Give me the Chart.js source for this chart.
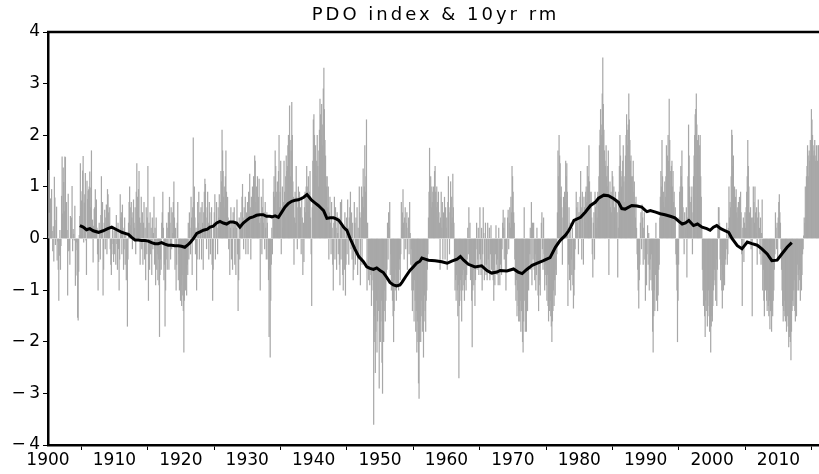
<!DOCTYPE html>
<html>
<head>
<meta charset="utf-8">
<script src="https://cdn.jsdelivr.net/npm/chart.js@4"></script>
<style>
html,body{margin:0;padding:0;background:#fff;}
canvas{display:block;}
</style>
</head>
<body>
<canvas id="c" width="819" height="474"></canvas>
<script>
// ---- DATA ----
const titleText = "PDO index & 10yr rm";
const startYear = 1900;
// monthly PDO index, one row per year, Jan..Dec
const pdoMonthly = [
 0.04, 1.32, 0.49, 0.35, 0.77, 0.65, 0.95, 0.14,-0.24, 0.23,-0.44, 1.19, // 1900
 0.79,-0.12, 0.35, 0.61,-0.42,-0.05,-0.60,-1.20,-0.33, 0.16,-0.60,-0.14, // 1901
 0.82, 1.58, 0.48, 1.37, 1.09, 0.52, 1.58, 1.57, 0.44, 0.70, 0.16,-1.10, // 1902
 0.86,-0.24,-0.22,-0.50, 0.43, 0.23, 0.40, 1.01,-0.24, 0.18, 0.08,-0.03, // 1903
 0.63,-0.91,-0.71,-0.07,-0.22,-1.53,-1.58,-0.64, 0.06, 0.43, 1.45, 0.58, // 1904
 0.73, 0.91, 1.31, 1.59,-0.07, 0.69, 0.85, 1.26,-0.03,-0.70, 1.11, 0.76, // 1905
 0.92, 0.95, 1.00, 1.29, 0.60, 0.98, 1.70, 0.35, 0.36,-0.46, 0.24, 0.57, // 1906
 0.60, 0.95, 0.40, 0.75, 0.20,-0.30,-1.00,-0.45, 0.30, 0.10,-0.40, 0.45, // 1907
 1.20, 0.50, 0.70,-1.10,-0.60, 0.30, 0.55,-0.20, 0.40, 0.65,-0.30, 0.95, // 1908
 0.85, 0.50, 0.30, 0.60,-0.20,-0.50,-0.70,-0.30, 0.20,-0.10,-0.45, 0.15, // 1909
-0.30, 0.20,-0.50, 0.45,-0.10,-0.60, 0.30,-0.20,-1.00,-0.40, 0.85, 0.40, // 1910
 0.50,-0.30, 0.65, 0.20,-0.60,-0.20, 0.40,-0.50, 0.10,-0.80,-0.40,-1.70, // 1911
-0.40, 0.30, 0.70, 1.00, 0.60, 0.25, 0.70, 0.40,-0.20, 0.50, 0.75, 0.30, // 1912
 0.20, 0.60,-0.30, 0.90, 1.45, 0.80, 0.50, 0.95, 1.30, 0.40,-0.50, 0.30, // 1913
 0.80,-0.20, 0.50,-0.50, 0.30, 0.70,-0.40, 0.20,-0.80, 0.60,-0.30, 0.40, // 1914
 1.40,-1.20, 0.30,-0.60, 0.50,-0.30, 0.20,-0.70, 0.40,-0.20, 0.10, 0.80, // 1915
-0.50, 0.20,-0.90, 0.40,-0.60,-0.30,-0.80,-0.40,-0.90,-1.90,-0.70,-0.40, // 1916
-0.60, 0.30, 0.50, 0.90, 0.20,-0.80,-0.50,-1.70,-1.00,-0.40, 0.30,-0.60, // 1917
 0.20, 0.50,-0.60, 0.80, 0.30,-0.40, 0.60,-0.20, 0.50, 0.10, 0.70, 1.10, // 1918
 0.40,-0.60, 0.20,-1.00,-0.50, 0.30, 0.70,-0.80,-0.30,-1.00,-0.60,-1.20, // 1919
-0.90,-1.30,-0.70,-1.10,-1.40,-2.20,-1.20,-0.80,-1.00,-0.60,-1.10,-0.50, // 1920
-0.70, 0.30,-0.40, 0.50, 0.20,-0.30, 0.80, 0.40,-0.70, 0.60, 1.95, 0.70, // 1921
 1.00, 0.40,-0.30, 0.20,-1.00,-0.40, 0.70, 0.30, 0.90,-0.40, 0.50, 0.20, // 1922
 0.60,-0.40, 0.70, 0.30,-0.60, 0.50, 0.90, 1.15, 1.05, 0.40,-0.20, 0.60, // 1923
 0.90, 0.30,-0.40, 0.70, 0.50,-0.30, 0.20, 0.60,-0.50,-1.20,-0.60, 0.30, // 1924
 0.50, 0.85,-0.40, 0.30, 0.70, 0.20,-0.30, 0.60, 0.40, 0.85, 0.30, 0.70, // 1925
 1.30, 1.10, 2.10, 1.70, 1.30, 0.80, 1.00, 0.60, 1.20, 1.70, 0.90, 0.50, // 1926
 0.80, 0.40,-0.20, 0.30,-0.70, 0.20, 0.60,-0.40, 0.30,-0.60, 0.50, 0.20, // 1927
 0.60,-0.50, 0.30,-0.70, 0.20, 0.75,-0.30,-1.40,-0.80, 0.40,-0.40, 0.30, // 1928
 0.50, 0.30, 0.80, 1.05, 0.40,-0.20, 0.60, 0.30, 0.80,-0.30, 0.50, 0.20, // 1929
 0.70,-0.30, 0.90, 0.50, 1.25, 0.60,-0.40, 0.80, 0.30, 1.00, 0.40, 1.20, // 1930
 1.10, 1.60, 1.50, 0.70, 1.00, 0.40, 1.20, 0.50, 0.80, 1.15, 0.30,-1.00, // 1931
 0.40, 0.80,-0.30, 0.60, 1.15, 0.30, 0.50,-0.20, 0.70, 0.20,-0.40, 0.50, // 1932
 0.30,-0.40,-0.80,-1.90,-0.60,-2.30,-1.20,-0.50, 0.20,-0.30, 0.40, 0.90, // 1933
 1.20, 0.80, 1.70, 1.40, 0.90, 0.50, 1.10, 0.70, 1.30, 2.00, 0.60, 0.90, // 1934
 1.50,-0.30, 0.60, 1.00, 0.20, 0.70, 1.50, 0.90, 0.40, 1.20, 1.60, 1.30, // 1935
 1.40, 1.80, 2.00, 1.60, 2.57, 1.90, 1.20, 1.70, 2.64, 2.00, 1.10, 0.80, // 1936
-0.50, 0.40, 0.90, 0.30, 1.40, 0.80,-0.20, 0.60, 1.00, 0.50, 0.90, 0.30, // 1937
 0.60,-0.30, 0.80, 0.40,-0.70, 0.30,-0.45, 0.60, 0.90, 0.50, 1.00, 1.40, // 1938
 1.00, 0.70, 1.20, 0.50, 0.90, 1.30, 0.40,-0.30,-1.30, 0.60, 1.50, 2.30, // 1939
 2.40, 2.00, 1.60, 1.80, 1.20, 1.50, 2.00, 1.40, 1.00, 1.70, 2.10, 2.70, // 1940
 2.40, 2.00, 2.60, 1.80, 2.20, 2.90, 3.30, 2.50, 1.90, 1.60, 1.20, 1.00, // 1941
 1.20, 0.60, 1.00,-0.40, 0.50, 0.80, 0.30,-0.30, 0.70, 0.20,-0.50,-1.00, // 1942
 0.30, 0.80,-0.40, 0.60, 0.20,-0.60, 0.50, 0.10,-0.30, 0.40,-0.50,-0.90, // 1943
 0.70,-0.40, 0.75, 0.30,-0.70,-1.00, 0.20,-0.60, 0.50,-1.10,-0.50, 0.40, // 1944
-0.30, 0.75, 0.20,-0.50, 0.40, 0.60, 0.90,-0.20, 0.50,-0.40, 0.30,-0.80, // 1945
-0.60, 0.70, 0.30,-0.50, 0.40,-0.30, 0.60,-0.70, 0.20,-0.40, 1.00, 0.50, // 1946
-0.90, 0.40, 1.00,-0.50, 0.80, 1.35, 0.60, 1.00, 1.80, 0.90, 1.20, 2.30, // 1947
-1.00, 0.30,-0.60,-0.80,-0.40,-0.90,-0.50,-0.70,-1.30,-0.80,-0.60,-1.00, // 1948
-3.60,-2.00,-1.50,-2.60,-1.80,-1.20,-2.20,-1.60,-1.00,-1.40,-2.90,-2.00, // 1949
-2.00,-1.60,-1.20,-2.40,-3.00,-1.80,-2.00,-1.40,-1.00,-1.60,-1.20,-0.80, // 1950
-0.60, 0.30,-0.40, 0.50, 0.20, 0.70,-0.70,-0.30,-1.00,-0.80,-1.20,-1.50, // 1951
-2.00,-1.40,-0.80,-1.00,-0.60,-1.20,-0.70,-0.90,-0.50,-1.00,-0.60,-0.40, // 1952
-0.80,-0.30, 0.70, 0.20, 0.50, 0.95, 0.30,-0.40, 0.40, 0.60,-0.20, 0.30, // 1953
 0.50,-0.60, 0.20, 0.40,-0.30, 0.70, 0.10,-0.50,-0.20,-1.00,-1.40,-0.70, // 1954
-1.00,-1.60,-0.80,-1.20,-1.80,-1.40,-2.20,-1.60,-2.00,-2.80,-3.10,-2.00, // 1955
-1.60,-2.00,-1.20,-1.50,-1.80,-1.00,-2.30,-1.60,-1.10,-1.40,-1.80,-1.20, // 1956
-1.00,-0.60,-0.30, 0.40, 0.90, 1.75, 0.80, 1.20, 0.60, 1.00, 0.70, 0.90, // 1957
 1.00, 0.80, 1.30, 1.40, 0.90, 0.60, 1.00, 0.70, 0.40, 0.90, 0.50, 0.30, // 1958
-0.60, 0.40, 0.90, 0.20, 0.70,-0.40, 0.50, 0.30, 0.80,-0.40, 0.60, 0.20, // 1959
 0.40,-0.60, 0.70, 1.20, 0.50,-0.30, 0.60, 1.10, 0.30, 0.80, 0.40, 1.25, // 1960
 0.60, 0.30,-0.40,-1.00,-0.80,-1.20,-0.70,-1.00,-1.50,-0.90,-2.70,-1.30, // 1961
-1.00,-0.80,-1.20,-1.60,-0.70,-1.00,-0.60,-0.90,-1.20,-0.50,-0.80,-1.00, // 1962
-0.70,-0.40, 0.20,-0.30, 0.60,-0.50, 0.30,-0.80,-0.40,-1.20,-2.10,-1.00, // 1963
-0.60,-0.90,-0.50,-1.30,-0.80,-0.20, 0.30,-0.60,-0.40, 0.20,-0.70,-0.30, // 1964
 0.60,-0.40,-0.70, 0.20,-1.00,-0.30, 0.60, 0.10,-0.80,-0.50, 0.30,-0.70, // 1965
-0.50,-0.80, 0.30,-0.40,-0.60, 0.20,-0.80,-0.30, 0.25,-0.60,-0.40,-0.70, // 1966
-0.80,-1.20,-0.60,-0.90,-0.30, 0.25,-0.50,-0.70,-0.40,-0.90, 0.20,-0.60, // 1967
-0.90,-0.50,-0.30,-0.70,-0.20, 0.30, 0.55, 0.20,-0.40, 0.40,-0.60,-1.00, // 1968
-0.60,-0.30, 0.40, 0.55,-0.20, 0.30, 0.60, 0.20, 0.80, 0.50, 1.40, 1.20, // 1969
 0.90, 0.50, 0.30,-0.40,-0.90,-1.20,-0.80,-1.50,-1.00,-1.30,-1.60,-1.40, // 1970
-1.60,-1.20,-1.80,-1.40,-1.00,-2.00,-2.20,-1.60, 0.60,-1.20,-1.80,-1.40, // 1971
-1.80,-1.20,-1.40,-0.90,-1.00,-0.50,-0.30, 0.20,-0.60, 0.70,-0.90, 0.30, // 1972
-0.40, 0.30,-0.60,-0.80,-0.30,-1.00,-0.70, 0.20,-0.50,-1.10,-1.40,-0.90, // 1973
-0.80,-1.10,-0.40, 0.30, 0.50,-0.20,-0.60, 0.40,-0.30,-1.00,-0.70,-0.50, // 1974
-0.90,-1.20,-0.70,-1.30,-1.60,-1.00,-1.40,-1.20,-1.50,-1.70,-2.00,-1.60, // 1975
-1.40,-1.00,-1.30,-0.80,-1.10,-0.60,-0.70,-0.30, 0.50, 1.70, 1.20, 2.00, // 1976
 1.60, 1.45, 0.80, 1.00, 0.60,-0.50, 0.40, 0.80, 0.30, 0.90, 0.70, 1.50, // 1977
 1.20, 1.45, 0.90,-1.30,-0.50, 0.60,-0.80, 0.30,-1.00,-0.40,-0.70, 0.20, // 1978
-0.90,-1.35,-1.10,-0.60,-0.20, 0.40, 0.90, 0.60, 0.30, 0.70,-0.30, 0.50, // 1979
 0.40, 0.80, 1.30, 0.60,-0.40, 0.90, 0.50,-0.50, 0.80, 0.60, 0.30, 0.90, // 1980
 1.00, 0.70, 1.40, 1.00, 1.20, 1.80, 1.10, 0.90, 0.60, 0.90, 0.40,-0.30, // 1981
-0.75, 0.30, 0.50,-0.40, 0.90, 0.60, 0.20, 0.70, 0.40, 0.90, 0.80, 1.20, // 1982
 1.80, 2.10, 2.50, 2.20, 2.00, 2.80, 3.50, 2.60, 2.10, 1.70, 1.50, 1.40, // 1983
 1.80, 1.20, 1.00, 1.40, 1.70,-0.70, 0.80, 1.10, 0.60, 0.90, 0.50, 1.30, // 1984
 1.20, 0.80, 1.00, 0.60, 0.40, 0.90, 0.30, 0.70, 0.50,-0.75, 0.20, 0.90, // 1985
 1.40, 2.00, 1.60, 1.20, 1.00, 1.30, 1.50, 1.80, 1.10, 0.70, 1.20, 1.60, // 1986
 2.00, 2.40, 2.10, 1.80, 2.20, 2.80, 2.30, 1.90, 1.50, 1.60, 1.20, 1.00, // 1987
 1.20, 1.50, 0.90, 1.10, 0.70, 0.40, 0.80, 0.20,-0.30,-0.60,-1.00,-1.35, // 1988
-0.80,-0.50, 0.30, 0.50,-0.20, 0.65, 0.40,-0.50, 0.20, 0.50,-0.40,-1.20, // 1989
-0.60,-0.90,-0.30, 0.25,-0.50, 0.10,-1.00,-0.60,-0.40,-0.80,-0.30,-1.00, // 1990
-1.80,-2.20,-1.50,-1.00,-1.40,-0.70, 0.30,-1.20,-0.80,-1.40,-1.10,-0.60, // 1991
-0.50, 0.40, 0.80, 1.30, 1.00, 1.90, 1.20, 0.70, 0.90, 0.60, 1.10, 0.80, // 1992
 1.20, 1.80, 1.40, 1.60, 2.00, 1.50, 2.70, 1.90, 1.30, 1.00, 1.40, 1.50, // 1993
 1.00, 1.30, 0.70, 0.90, 0.40, 0.60,-0.30,-0.50,-1.00,-2.00,-1.20,-0.50, // 1994
 0.40, 0.90, 1.00, 1.40, 1.20, 1.70, 1.00, 0.60, 0.30,-0.30, 0.50, 0.20, // 1995
 0.30, 0.60,-0.75, 0.40, 1.20, 2.20, 1.60, 1.00, 0.70, 0.30, 0.80, 1.00, // 1996
-0.30, 0.50, 1.20, 1.60, 2.00, 2.40, 2.50, 2.80, 2.20, 1.90, 1.60, 2.00, // 1997
 1.60, 1.80, 2.00, 1.20, 0.80, 0.20,-0.60,-1.00,-1.30,-0.80,-1.50,-1.90, // 1998
-1.20,-1.40,-1.00,-1.70,-1.30,-1.00,-1.50,-1.80,-1.60,-2.20,-1.70,-1.50, // 1999
-1.60,-1.30,-1.00,-0.80,-0.60,-0.90,-1.20,-0.40,-1.30,-0.60, 0.20, 0.60, // 2000
 0.60, 0.30,-0.40,-0.80,-0.50,-1.00,-1.35,-0.70,-1.00,-0.60,-0.90,-0.50, // 2001
-0.40,-0.20, 0.30,-0.50,-0.30, 0.20, 1.00, 0.40, 0.70, 0.60, 1.20, 2.10, // 2002
 2.00, 1.40, 1.60, 0.90, 1.00, 0.60, 0.80, 0.95, 0.50, 0.60, 0.40, 0.70, // 2003
 0.60, 0.80, 0.40, 0.90, 0.50,-0.30,-1.30, 0.20, 0.40,-0.45, 0.30, 0.50, // 2004
 0.20, 0.60, 0.90, 1.20, 1.90, 1.40, 1.00, 0.50, 0.30, 0.60,-0.20, 0.40, // 2005
-1.50, 0.40, 1.00, 0.70, 0.30, 1.00, 0.50, 0.10, 0.60,-0.50, 0.40, 0.75, // 2006
 0.50, 0.20,-0.30, 0.40,-0.50, 0.10, 0.75,-1.00,-0.60,-1.20,-1.50,-0.90, // 2007
-1.00,-0.80,-1.20,-1.40,-1.00,-1.30,-1.50,-1.20,-1.75,-1.40,-1.20,-1.80, // 2008
-1.40,-1.50,-1.20,-1.00,-0.60,-0.30, 0.50, 0.20,-0.20, 0.30,-0.40, 0.40, // 2009
 0.70, 0.85, 0.50, 0.30,-0.20,-0.60,-1.00,-1.30,-1.60,-1.40,-1.20,-1.50, // 2010
-1.60,-1.40,-1.80,-1.20,-1.50,-1.70,-2.10,-1.90,-1.80,-2.00,-2.35,-1.80, // 2011
-1.40,-1.20,-1.30,-1.00,-0.80,-1.40,-1.60,-1.30,-1.50,-1.00,-0.50,-0.70, // 2012
-1.00,-0.60,-0.80,-1.20,-0.50,-1.00,-0.70,-0.30,-0.20, 0.05, 0.40, 0.30, // 2013
 1.00, 0.40, 1.20, 1.40, 1.80, 1.60, 1.20, 1.70, 1.50, 1.90, 1.60, 2.50, // 2014
 2.30, 2.00, 1.80, 1.60, 1.70, 1.90, 1.50, 1.60, 1.80, 1.40, 1.50, 1.80, // 2015
 1.80, 1.60                                                              // 2016
];
// 10-year running mean
const rmYears = [
 1904.8,1905.3,1905.8,1906.3,1906.8,1907.6,1908.3,1909.0,1909.6,1910.2,1910.8,1911.1,1911.6,1912.1,1912.6,
 1913.1,1913.6,1914.1,1914.6,1915.1,1915.6,1916.1,1916.6,1917.1,1917.6,1918.1,1918.6,1919.1,1919.6,1920.1,
 1920.6,1921.0,1921.4,1921.9,1922.4,1922.9,1923.4,1924.0,1924.4,1924.9,1925.4,1925.9,1926.4,1926.9,1927.4,
 1927.9,1928.4,1928.9,1929.4,1929.9,1930.4,1930.9,1931.4,1931.9,1932.4,1932.9,1933.4,1933.7,1934.2,1934.7,
 1935.2,1935.7,1936.2,1936.7,1937.2,1937.7,1938.1,1938.5,1939.0,1939.4,1939.7,1940.2,1940.7,1941.1,1941.5,
 1942.0,1942.5,1943.0,1943.4,1943.8,1944.2,1944.5,1944.8,1945.0,1945.5,1946.2,1946.8,1947.5,1948.0,1948.5,
 1949.0,1949.5,1950.0,1950.5,1951.0,1951.5,1952.0,1952.5,1953.0,1953.3,1953.8,1954.5,1955.0,1955.5,1956.0,
 1956.3,1956.8,1957.3,1958.3,1959.3,1960.1,1960.8,1961.6,1962.1,1962.6,1963.3,1964.3,1965.3,1966.1,1966.8,
 1967.6,1968.1,1969.1,1970.1,1970.8,1971.4,1972.1,1972.9,1973.6,1974.6,1975.6,1976.4,1977.1,1977.9,1978.4,
 1978.7,1979.2,1980.2,1980.9,1981.7,1982.4,1982.9,1983.7,1984.4,1985.2,1985.9,1986.4,1986.9,1987.9,1988.7,
 1989.4,1989.9,1990.2,1990.7,1991.5,1992.2,1992.9,1993.7,1994.4,1995.0,1995.5,1996.0,1996.5,1997.2,1997.8,
 1998.5,1999.2,1999.7,2000.2,2000.7,2001.3,2002.0,2002.5,2003.0,2003.8,2004.5,2005.3,2006.0,2006.8,2007.5,
 2008.3,2009.0,2009.8,2010.5,2011.3,2012.0
];
const rmValues = [
 0.25,0.22,0.17,0.19,0.15,0.12,0.15,0.19,0.22,0.18,0.14,0.12,0.10,0.08,0.02,
 -0.03,-0.03,-0.04,-0.04,-0.05,-0.08,-0.10,-0.10,-0.08,-0.11,-0.13,-0.13,-0.14,-0.14,-0.15,
 -0.17,-0.13,-0.08,0.00,0.10,0.13,0.16,0.18,0.22,0.24,0.30,0.33,0.30,0.28,0.32,
 0.32,0.30,0.22,0.30,0.35,0.40,0.42,0.45,0.46,0.46,0.43,0.43,0.42,0.44,0.41,
 0.51,0.61,0.68,0.72,0.74,0.75,0.77,0.80,0.85,0.79,0.74,0.69,0.64,0.59,0.54,
 0.39,0.40,0.40,0.38,0.35,0.28,0.22,0.18,0.16,0.00,-0.20,-0.35,-0.45,-0.55,-0.58,
 -0.60,-0.57,-0.62,-0.66,-0.75,-0.85,-0.90,-0.92,-0.90,-0.85,-0.75,-0.62,-0.55,-0.48,-0.44,
 -0.38,-0.40,-0.42,-0.43,-0.45,-0.48,-0.44,-0.40,-0.35,-0.42,-0.50,-0.55,-0.53,-0.62,-0.67,
 -0.65,-0.62,-0.63,-0.59,-0.65,-0.68,-0.60,-0.52,-0.48,-0.43,-0.37,-0.17,-0.04,0.06,0.15,
 0.22,0.35,0.41,0.51,0.64,0.70,0.78,0.84,0.83,0.77,0.70,0.58,0.57,0.64,0.63,
 0.61,0.55,0.52,0.54,0.51,0.48,0.46,0.43,0.40,0.33,0.28,0.30,0.35,0.25,0.28,
 0.22,0.19,0.16,0.22,0.25,0.19,0.15,0.12,0.00,-0.14,-0.20,-0.07,-0.10,-0.13,-0.20,
 -0.30,-0.43,-0.42,-0.30,-0.17,-0.08
];
const xTickYears = [1900,1910,1920,1930,1940,1950,1960,1970,1980,1990,2000,2010];
const yTickValues = [-4,-3,-2,-1,0,1,2,3,4];
const xMin = 1900, xMax = 2016.1;

// ---- CHART ----
const barData = pdoMonthly.map((v, i) => ({ x: startYear + (i + 0.5) / 12, y: v }));
const lineData = rmYears.map((x, i) => ({ x: x, y: rmValues[i] }));
const FONT = "'DejaVu Sans', sans-serif";

const frame = {
  id: 'frame',
  afterDraw(chart) {
    const { ctx, chartArea } = chart;
    ctx.save();
    ctx.strokeStyle = '#000';
    ctx.lineWidth = 2.5;
    ctx.beginPath();
    ctx.moveTo(chartArea.left - 1, chartArea.top);
    ctx.lineTo(chartArea.right + 2, chartArea.top);
    ctx.stroke();
    // title
    ctx.fillStyle = '#000';
    ctx.font = "18px " + FONT;
    ctx.textAlign = 'center';
    ctx.textBaseline = 'alphabetic';
    if ('letterSpacing' in ctx) ctx.letterSpacing = '3px';
    ctx.fillText(titleText, (chartArea.left + chartArea.right) / 2 + 2, 20);
    ctx.restore();
  }
};

new Chart(document.getElementById('c'), {
  type: 'bar',
  data: {
    datasets: [
      {
        type: 'line', data: lineData, borderColor: '#000', borderWidth: 3,
        pointRadius: 0, tension: 0, fill: false, order: 0
      },
      {
        type: 'bar', data: barData, backgroundColor: '#a8a8a8', borderWidth: 0,
        barPercentage: 1.0, categoryPercentage: 1.0, order: 1, grouped: false
      }
    ]
  },
  options: {
    responsive: false, animation: false, devicePixelRatio: 1,
    layout: { padding: { top: 32, right: 0, left: 0, bottom: 0 } },
    plugins: { legend: { display: false }, tooltip: { enabled: false }, title: { display: false } },
    scales: {
      x: {
        type: 'linear', min: xMin, max: xMax, offset: false,
        afterBuildTicks(s) { s.ticks = xTickYears.map(v => ({ value: v })); },
        afterFit(s) { s.height = 474 - 445; },
        grid: { drawOnChartArea: false, drawTicks: true, tickLength: 5, color: '#000', lineWidth: 1 },
        border: { display: true, color: '#000', width: 2.5 },
        ticks: { color: '#000', font: { family: FONT, size: 17 }, padding: 0, maxRotation: 0, autoSkip: false,
                 callback: v => String(v) }
      },
      y: {
        type: 'linear', min: -4, max: 4,
        afterBuildTicks(s) { s.ticks = yTickValues.map(v => ({ value: v })); },
        afterFit(s) { s.width = 48; },
        grid: { drawOnChartArea: false, drawTicks: true, tickLength: 5, color: '#000', lineWidth: 1 },
        border: { display: true, color: '#000', width: 2.5 },
        ticks: { color: '#000', font: { family: FONT, size: 17 }, padding: 3,
                 callback: v => (v < 0 ? '\u2212\u2009' + Math.abs(v) : String(v)) }
      }
    }
  },
  plugins: [frame]
});
</script>
</body>
</html>
